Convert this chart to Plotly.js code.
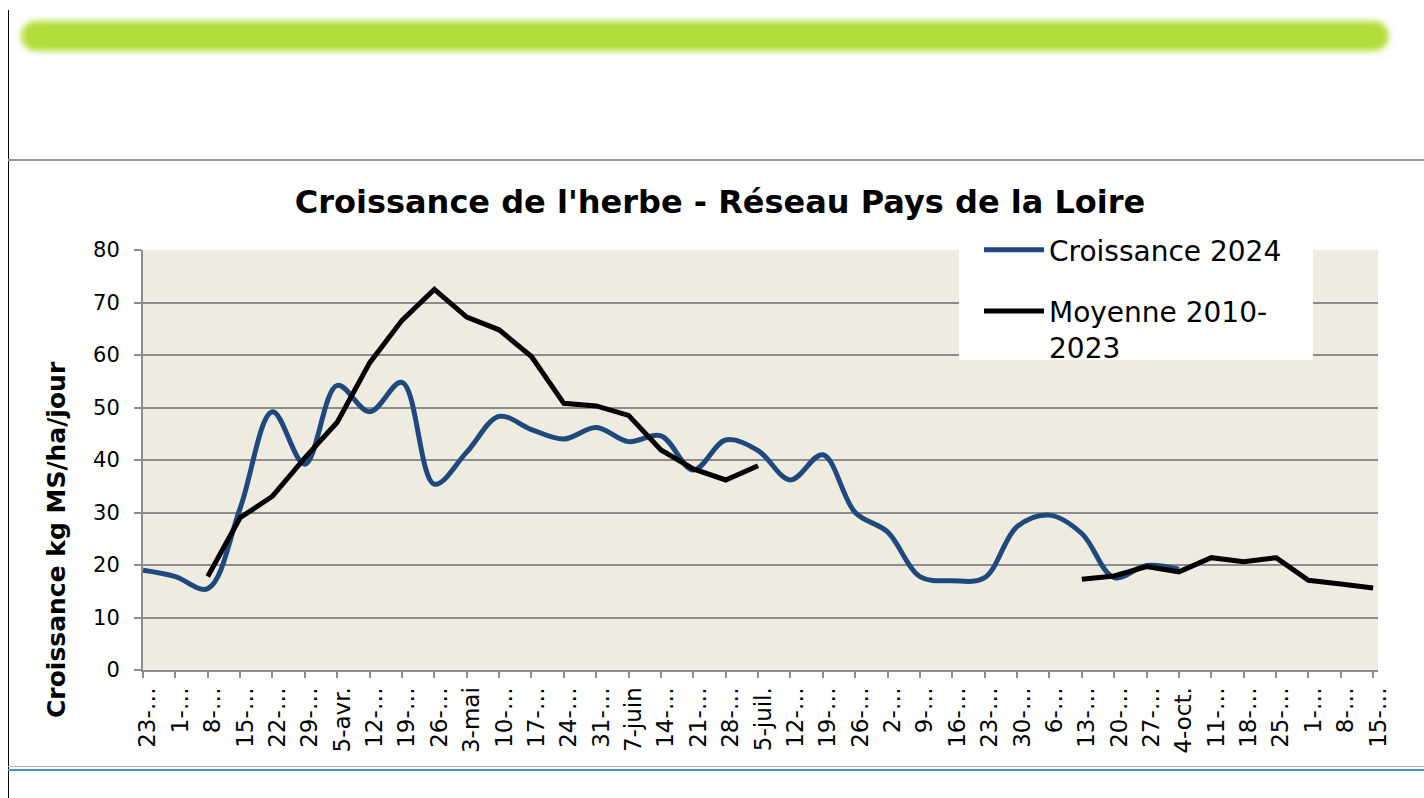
<!DOCTYPE html>
<html>
<head>
<meta charset="utf-8">
<script src="https://cdn.plot.ly/plotly-3.0.1.min.js"></script>
<style>
  html, body { margin:0; padding:0; background:#ffffff; width:1424px; height:798px; overflow:hidden; }
  #deco-green { position:absolute; left:21px; top:21px; width:1368px; height:30px; border-radius:15px; background:#b2dd3a; filter:blur(3px); }
  #deco-vline { position:absolute; left:8px; top:10px; width:1px; height:788px; background:#000; }
  #deco-hline { position:absolute; left:8px; top:159px; width:1416px; height:2px; background:#9a9a9a; }
  #deco-bline1 { position:absolute; left:8px; top:766px; width:1416px; height:1px; background:#b0b0b0; }
  #deco-bline2 { position:absolute; left:8px; top:769px; width:1416px; height:2px; background:#4a90d0; }
  #chart { position:absolute; left:0; top:0; width:1424px; height:798px; }
</style>
</head>
<body>
<div id="deco-green"></div>
<div id="deco-vline"></div>
<div id="deco-hline"></div>
<div id="deco-bline1"></div>
<div id="deco-bline2"></div>
<div id="chart"></div>
<script>
const weekLabels = ["23-…","1-…","8-…","15-…","22-…","29-…","5-avr.","12-…","19-…","26-…",
  "3-mai","10-…","17-…","24-…","31-…","7-juin","14-…","21-…","28-…","5-juil.",
  "12-…","19-…","26-…","2-…","9-…","16-…","23-…","30-…","6-…","13-…",
  "20-…","27-…","4-oct.","11-…","18-…","25-…","1-…","8-…","15-…"];

const croissance2024 = [19.0,17.8,15.5,30.8,49.2,39.2,54.2,49.2,54.8,35.4,
  41.5,48.3,45.8,44.0,46.2,43.5,44.6,38.1,43.8,41.8,
  36.2,41.0,30.0,26.3,17.8,17.0,17.6,27.3,29.5,26.0,
  17.6,19.9,19.2,null,null,null,null,null,null];

const moyenne = [null,null,17.8,29.0,33.1,40.4,47.2,58.5,66.6,72.5,
  67.2,64.8,59.7,50.8,50.3,48.5,41.9,38.3,36.2,38.9,
  null,null,null,null,null,null,null,null,null,17.3,
  17.9,19.7,18.7,21.4,20.6,21.4,17.1,16.4,15.6];

const xIdx = weekLabels.map((_, i) => i);
const FONT = "DejaVu Sans, Verdana, sans-serif";

// pixel helpers for placing non-data decorations (legend box, axis title) in paper coords
const PL = 143, PW = 1235, PB = 670, PH = 420;
const px2x = p => (p - PL) / PW;
const px2y = p => (PB - p) / PH;

const traces = [
  { x: xIdx, y: croissance2024, type: "scatter", mode: "lines", name: "Croissance 2024",
    line: { color: "#1f497d", width: 5, shape: "spline", smoothing: 1 }, connectgaps: false, legendgroup: "a" },
  { x: xIdx, y: moyenne, type: "scatter", mode: "lines", name: "Moyenne 2010-<br>2023",
    line: { color: "#000000", width: 5 }, connectgaps: false, legendgroup: "b" }
];

const layout = {
  width: 1424, height: 798,
  margin: { l: 143, r: 46, t: 250, b: 128 },
  paper_bgcolor: "rgba(0,0,0,0)",
  plot_bgcolor: "#eeece1",
  font: { family: FONT, color: "#000" },
  title: { text: "<b>Croissance de l'herbe - Réseau Pays de la Loire</b>",
    font: { family: FONT, size: 32, color: "#000" },
    x: 720/1424, xref: "container", xanchor: "center",
    y: 1 - 202/798, yref: "container", yanchor: "middle" },
  xaxis: {
    range: [0, 38.15], tickmode: "array", tickvals: xIdx, ticktext: weekLabels,
    tickangle: -90, tickfont: { family: FONT, size: 23, color: "#000" },
    ticklabelshift: 5,
    ticks: "outside", ticklen: 6, tickwidth: 2, tickcolor: "#8c8c8c",
    showgrid: false, showline: true, linecolor: "#8c8c8c", linewidth: 2, zeroline: false
  },
  yaxis: {
    range: [0, 80], tickvals: [0,10,20,30,40,50,60,70,80],
    tickfont: { family: FONT, size: 21, color: "#000" },
    ticks: "outside", ticklen: 7, tickwidth: 2, tickcolor: "#8c8c8c",
    ticklabelstandoff: 10,
    showgrid: true, gridcolor: "#8c8c8c", gridwidth: 2,
    showline: true, linecolor: "#8c8c8c", linewidth: 2, zeroline: false
  },
  showlegend: true,
  legend: {
    x: px2x(979), y: px2y(225), xanchor: "left", yanchor: "top",
    bgcolor: "rgba(0,0,0,0)", borderwidth: 0,
    font: { family: FONT, size: 28, color: "#000" },
    itemwidth: 60, valign: "top", traceorder: "grouped", tracegroupgap: 22
  },
  shapes: [{
    type: "rect", xref: "paper", yref: "paper", layer: "above",
    x0: px2x(959), x1: px2x(1313), y0: px2y(360), y1: px2y(240),
    fillcolor: "#ffffff", line: { width: 0 }
  }],
  annotations: [{
    text: "<b>Croissance kg MS/ha/jour</b>", textangle: -90,
    xref: "paper", yref: "paper", x: px2x(56), y: px2y(540),
    xanchor: "center", yanchor: "middle", showarrow: false,
    font: { family: FONT, size: 25, color: "#000" }
  }]
};

Plotly.newPlot("chart", traces, layout, { displayModeBar: false, staticPlot: true });
</script>
</body>
</html>
